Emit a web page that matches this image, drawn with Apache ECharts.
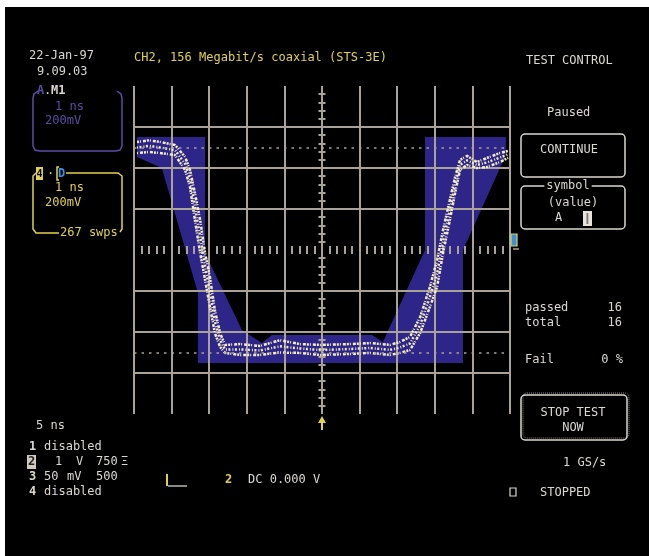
<!DOCTYPE html>
<html><head><meta charset="utf-8">
<script src="https://cdn.jsdelivr.net/npm/echarts@6/dist/echarts.min.js"></script>
<style>html,body{margin:0;padding:0;background:#fff}#c{width:649px;height:556px}</style>
</head><body><div id="c"></div>
<script>
// Time axis (ns, relative to screen centre) and voltage axis (mV)
const timeRange = [-5, 5];
const voltRange = [-800, 800];
const refLevels = [500, -500];

// Mask (tolerance band) polygon vertices
const maskT = [-4.92, -3.11, -3.11, -2.13, -1.60, -1.33, 1.33, 1.62, 2.74, 2.74, 4.89, 4.89, 3.75, 3.75, -3.30, -3.30, -4.26, -4.92];
const maskV = [551, 551, -15, -390, -454, -415, -415, -449, 0, 551, 551, 463, 0, -551, -551, -210, 400, 454];

// Acquired trace: upper edge, lower edge and centre of the noisy band
const traceT = [-4.92, -4.6, -4.31, -3.91, -3.64, -3.51, -3.38, -3.24, -3.11, -2.98, -2.85, -2.71, -2.58, -2.18, -1.65, -1.12, -0.59, -0.05, 0.74, 1.28, 1.81, 2.07, 2.34, 2.61, 2.87, 3.06, 3.22, 3.40, 3.54, 3.67, 3.86, 4.12, 4.39, 4.73, 4.95];
const traceUpper = [527, 535, 527, 512, 454, 390, 278, 146, -15, -132, -293, -405, -463, -459, -468, -440, -459, -463, -459, -454, -463, -449, -424, -327, -180, -49, 98, 244, 356, 439, 459, 429, 449, 473, 483];
const traceLower = [473, 478, 473, 463, 390, 307, 146, -15, -146, -278, -405, -473, -502, -512, -512, -500, -502, -512, -507, -502, -512, -502, -488, -405, -278, -180, -15, 146, 278, 390, 415, 400, 405, 429, 449];
const traceMid = [500, 508, 500, 488, 420, 350, 212, 65, -80, -205, -350, -440, -485, -485, -490, -470, -480, -488, -483, -478, -487, -476, -456, -366, -229, -115, 42, 195, 317, 415, 437, 415, 427, 451, 466];

const G = '#aaa298', MASK = '#2e2588', TR = '#f2ecc8';
const WH = '#dcd8d0', YE = '#e2d24a', PU = '#5a4ea4', BL = '#3c8ee0';
const FONT = '"DejaVu Sans Mono", monospace';

function T(text, x, y, color, o) {
  o = o || {};
  const st = { text: text, fill: color, font: (o.bold ? 'bold ' : '') + (o.size || 12) + 'px ' + FONT,
    textAlign: o.align || 'left', textVerticalAlign: 'middle' };
  if (o.bg) { st.backgroundColor = o.bg; st.padding = [0, 2]; }
  return { type: 'text', x: x, y: y, silent: true, z: 10, style: st };
}
function R(x, y, w, h, stroke, o) {
  o = o || {};
  return { type: 'rect', silent: true, z: 9, shape: { x: x, y: y, width: w, height: h, r: o.r || 0 },
    style: { fill: o.fill || 'none', stroke: stroke || 'none', lineWidth: o.lw || 1.5, lineDash: o.dash } };
}
function P(points, stroke, lw) {
  return { type: 'polyline', silent: true, z: 9, shape: { points: points }, style: { stroke: stroke, lineWidth: lw || 1.5, fill: 'none' } };
}

const chart = echarts.init(document.getElementById('c'), null, { renderer: 'canvas' });
const minor = { show: true, splitNumber: 5, length: 4, lineStyle: { color: G, width: 2 } };
const baseAxis = { type: 'value', axisTick: { show: false }, axisLabel: { show: false } };

const edgeLine = (vals, w, dash) => ({
  type: 'line', xAxisIndex: 0, yAxisIndex: 0, z: 3, symbol: 'none', silent: true,
  data: traceT.map((t, i) => [t, vals[i]]),
  lineStyle: { color: TR, width: w, type: dash }
});

chart.setOption({
  animation: false,
  backgroundColor: '#000',
  grid: { left: 134, top: 86, width: 376, height: 328, containLabel: false },
  xAxis: [
    Object.assign({}, baseAxis, { min: timeRange[0], max: timeRange[1], interval: 1, position: 'bottom',
      axisLine: { show: false, onZero: true, onZeroAxisIndex: 0 }, minorTick: minor,
      splitLine: { show: true, lineStyle: { color: G, width: 2 } } }),
    Object.assign({}, baseAxis, { min: timeRange[0], max: timeRange[1], interval: 1, position: 'top',
      axisLine: { show: false, onZero: true, onZeroAxisIndex: 1 }, minorTick: minor, splitLine: { show: false } })
  ],
  yAxis: [
    Object.assign({}, baseAxis, { min: voltRange[0], max: voltRange[1], interval: 200, position: 'left',
      axisLine: { show: false, onZero: true, onZeroAxisIndex: 0 }, minorTick: Object.assign({}, minor, { length: 3.5 }),
      splitLine: { show: true, lineStyle: { color: ['transparent', G, G, G, 'transparent', G, G, G, 'transparent'], width: 2 } } }),
    Object.assign({}, baseAxis, { min: voltRange[0], max: voltRange[1], interval: 200, position: 'right',
      axisLine: { show: false, onZero: true, onZeroAxisIndex: 1 }, minorTick: Object.assign({}, minor, { length: 3.5 }), splitLine: { show: false } })
  ],
  series: [
    {
      type: 'custom', xAxisIndex: 0, yAxisIndex: 0, z: -1, silent: true, data: [[0, 0]],
      renderItem: function (params, api) {
        return { type: 'polygon', shape: { points: maskT.map((t, i) => api.coord([t, maskV[i]])) }, style: { fill: MASK } };
      }
    },
    Object.assign(edgeLine(traceUpper, 2.5, [2, 1, 1, 2, 3, 1]), {
      markLine: { silent: true, symbol: ['none', 'none'], label: { show: false },
        lineStyle: { color: G, width: 1.5, type: [2.5, 5] },
        data: refLevels.map(v => ({ yAxis: v })) }
    }),
    edgeLine(traceLower, 2.5, [1, 2, 3, 1, 2, 1]),
    edgeLine(traceMid, 2.5, [1, 1.5, 2, 2])
  ],
  graphic: { elements: [
    R(0, 0, 649, 7, 'none', { fill: '#fff' }),
    R(0, 0, 5, 556, 'none', { fill: '#fff' }),
    // header
    T('22-Jan-97', 29, 56, WH),
    T('9.09.03', 37, 72, WH),
    T('CH2, 156 Megabit/s coaxial (STS-3E)', 134, 58, YE),
    T('TEST CONTROL', 526, 61, WH),
    // A box
    P([[38, 91], [34, 94], [33, 98], [33, 146], [35, 150], [39, 151], [116, 151], [120, 150], [122, 146], [122, 98], [121, 94], [117, 91]], PU, 1.5),
    T('A', 37, 91, PU, { bold: true }),
    T('.', 44, 91, WH),
    T('M1', 51, 91, WH, { bold: true }),
    T('1 ns', 55, 107, PU),
    T('200mV', 45, 121, PU),
    // channel box
    P([[36, 173], [33, 176], [33, 229], [36, 233], [59, 233]], YE, 1.5),
    P([[66, 173], [118, 173], [122, 176], [122, 229], [120, 232]], YE, 1.5),
    R(36, 167, 7, 13, 'none', { fill: YE }),
    T('4', 39.5, 174, '#000', { size: 10, align: 'center', bold: true }),
    T('·', 47, 174, YE),
    P([[59, 167], [57, 167], [57, 180], [59, 180]], YE, 1.5),
    T('D', 58, 174, BL, { bold: true }),
    T('1 ns', 55, 188, YE),
    T('200mV', 45, 203, YE),
    T('267 swps', 60, 233, YE),
    // right panel
    T('Paused', 547, 113, WH),
    R(521, 134, 104, 43, WH, { r: 4 }),
    T('CONTINUE', 569, 150, WH, { align: 'center' }),
    R(521, 186, 104, 43, WH, { r: 4 }),
    T('symbol', 568, 186, WH, { align: 'center', bg: '#000' }),
    T('(value)', 573, 203, WH, { align: 'center' }),
    T('A', 555, 218, WH),
    R(583, 211, 9, 15, 'none', { fill: '#e8e4dc' }),
    R(586.5, 213, 1.8, 11, 'none', { fill: '#777' }),
    T('passed', 525, 308, WH),
    T('16', 622, 308, WH, { align: 'right' }),
    T('total', 525, 323, WH),
    T('16', 622, 323, WH, { align: 'right' }),
    T('Fail', 525, 360, WH),
    T('0 %', 623, 360, WH, { align: 'right' }),
    R(523, 393, 106, 45, '#8e8a84', { r: 4, lw: 1, dash: [1, 1] }),
    R(521, 395, 106, 45, WH, { r: 4 }),
    T('STOP TEST', 573, 413, WH, { align: 'center' }),
    T('NOW', 573, 428, WH, { align: 'center' }),
    T('1 GS/s', 563, 463, WH),
    R(510, 488, 6, 8, WH, { lw: 1.2 }),
    T('STOPPED', 540, 493, WH),
    // channel marker at right edge
    R(511, 234, 6, 12, YE, { fill: BL, lw: 1.2 }),
    P([[513, 249], [519, 249]], G, 1.5),
    // trigger arrow
    P([[322, 430], [322, 418]], YE, 2),
    { type: 'polygon', silent: true, z: 9, shape: { points: [[318, 423], [322, 416], [326, 423]] }, style: { fill: YE } },
    // bottom-left channel list
    T('5 ns', 36, 426, WH),
    T('1', 29, 447, WH, { bold: true }),
    T('disabled', 44, 447, WH),
    R(27, 455, 9, 14, 'none', { fill: '#cfcac2' }),
    T('2', 31.5, 462, '#222', { bold: true, align: 'center' }),
    T('1', 55, 462, WH),
    T('V', 76, 462, WH),
    T('750', 96, 462, WH),
    T('Ξ', 121, 462, WH),
    T('3', 29, 477, WH, { bold: true }),
    T('50', 44, 477, WH),
    T('mV', 67, 477, WH),
    T('500', 96, 477, WH),
    T('4', 29, 492, WH, { bold: true }),
    T('disabled', 44, 492, WH),
    // bottom-middle
    P([[167, 474], [167, 486]], YE, 2),
    P([[168, 486], [187, 486]], '#bdb8b0', 1.5),
    T('2', 225, 480, YE, { bold: true }),
    T('DC 0.000 V', 248, 480, WH)
  ] }
});
</script></body></html>
